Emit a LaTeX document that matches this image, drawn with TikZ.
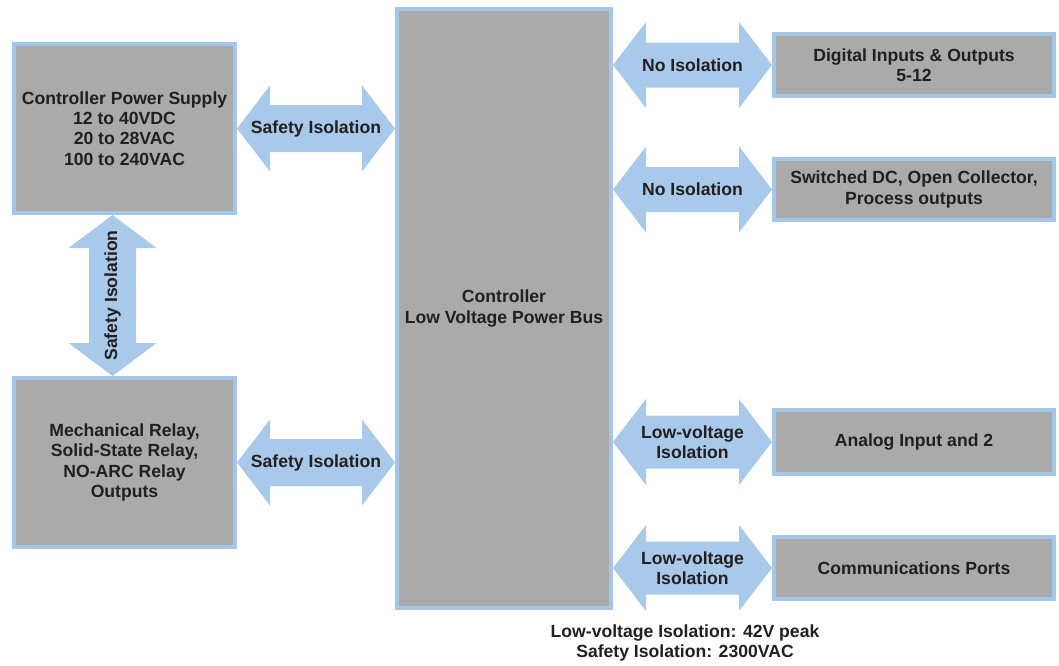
\documentclass[tikz,border=0pt]{standalone}
\usepackage{fontspec}
\setmainfont{Liberation Sans}
\usetikzlibrary{calc}
\usetikzlibrary{positioning}

\definecolor{boxgray}{RGB}{170,170,170}
\definecolor{rimblue}{RGB}{163,198,234}
\definecolor{isoblue}{RGB}{168,201,234}
\definecolor{inkdark}{RGB}{35,31,32}

\tikzset{
 unit/.style={draw=rimblue, line width=4pt, fill=boxgray, text=inkdark, align=center, inner sep=0pt,
  font=\bfseries\fontsize{17.6}{20.4}\selectfont},
 isotext/.style={text=inkdark, align=center, inner sep=0pt, font=\bfseries\fontsize{17.6}{20.4}\selectfont},
}

% wide double arrows, left end #1, right end #2, half shaft #3
\newcommand{\hbiarrow}[3]{%
 \fill[isoblue] let \p1=(#1), \p2=(#2) in (\x1,\y2) -- ++(33pt,43pt) -- ++(0,#3-43pt) -- (\x2-33pt,\y2+#3)
  -- ++(0,43pt-#3) -- (\x2,\y2) -- ++(-33pt,-43pt) -- ++(0,43pt-#3) -- (\x1+33pt,\y2-#3) -- ++(0,#3-43pt) -- cycle;}
% upright one, top end #1, bottom end #2
\newcommand{\vbiarrow}[3]{%
 \fill[isoblue] let \p1=(#1), \p2=(#2) in (\x1,\y1) -- ++(44pt,-33pt) -- ++(#3-44pt,0) -- (\x1+#3,\y2+33pt)
  -- ++(44pt-#3,0) -- (\x1,\y2) -- ++(-44pt,33pt) -- ++(44pt-#3,0) -- (\x1-#3,\y1-33pt) -- ++(#3-44pt,0) -- cycle;}

\begin{document}
\begin{tikzpicture}[x=1pt, y=-1pt]
\useasboundingbox (0,0) rectangle (1059,665);

\node[unit, minimum width=221, minimum height=169] (psu) at (124.5,128.5)
 {Controller Power Supply\\12 to 40VDC\\20 to 28VAC\\100 to 240VAC};
\node[unit, minimum width=221, minimum height=169] (relay) at (124.5,462.5)
 {Mechanical Relay,\\Solid-State Relay,\\NO-ARC Relay\\Outputs};
\node[unit, minimum width=214, minimum height=599] (ctrl) at (504,308.5) {Controller\\Low Voltage Power Bus};
\node[unit, minimum width=280, minimum height=62] (dio) at (914,65) {Digital Inputs \& Outputs\\5-12};
\node[unit, minimum width=280, minimum height=61] (sdc) at (914,189.5) {Switched DC, Open Collector,\\Process outputs};
\node[unit, minimum width=280, minimum height=64] (ain) at (914,442) {Analog Input and 2};
\node[unit, minimum width=280, minimum height=62] (com) at (914,568) {Communications Ports};

\coordinate (vtop) at ([xshift=-12pt]psu.south);
\coordinate (vbot) at (vtop |- relay.north);

\hbiarrow{psu.east}{ctrl.west |- psu.east}{23.5pt}
\hbiarrow{relay.east}{ctrl.west |- relay.east}{23.5pt}
\vbiarrow{vtop}{vbot}{23.5pt}
\hbiarrow{ctrl.east |- dio.west}{dio.west}{22.5pt}
\hbiarrow{ctrl.east |- sdc.west}{sdc.west}{22.5pt}
\hbiarrow{ctrl.east |- ain.west}{ain.west}{26.5pt}
\hbiarrow{ctrl.east |- com.west}{com.west}{26.5pt}

\node[isotext] (iso1) at ($(psu.east)!.5!(ctrl.west |- psu.east)$) {Safety Isolation};
\node[isotext] (iso2) at ($(relay.east)!.5!(ctrl.west |- relay.east)$) {Safety Isolation};
\node[isotext, rotate=90] (iso3) at ($(vtop)!.5!(vbot)$) {Safety Isolation};
\node[isotext] (iso4) at ($(ctrl.east |- dio.west)!.5!(dio.west)$) {No Isolation};
\node[isotext] (iso5) at ($(ctrl.east |- sdc.west)!.5!(sdc.west)$) {No Isolation};
\node[isotext] (iso6) at ($(ctrl.east |- ain.west)!.5!(ain.west)$) {Low-voltage\\Isolation};
\node[isotext] (iso7) at ($(ctrl.east |- com.west)!.5!(com.west)$) {Low-voltage\\Isolation};

\node[isotext] (note) at (685,643) {Low-voltage Isolation: 42V peak\\Safety Isolation: 2300VAC};
\end{tikzpicture}
\end{document}
